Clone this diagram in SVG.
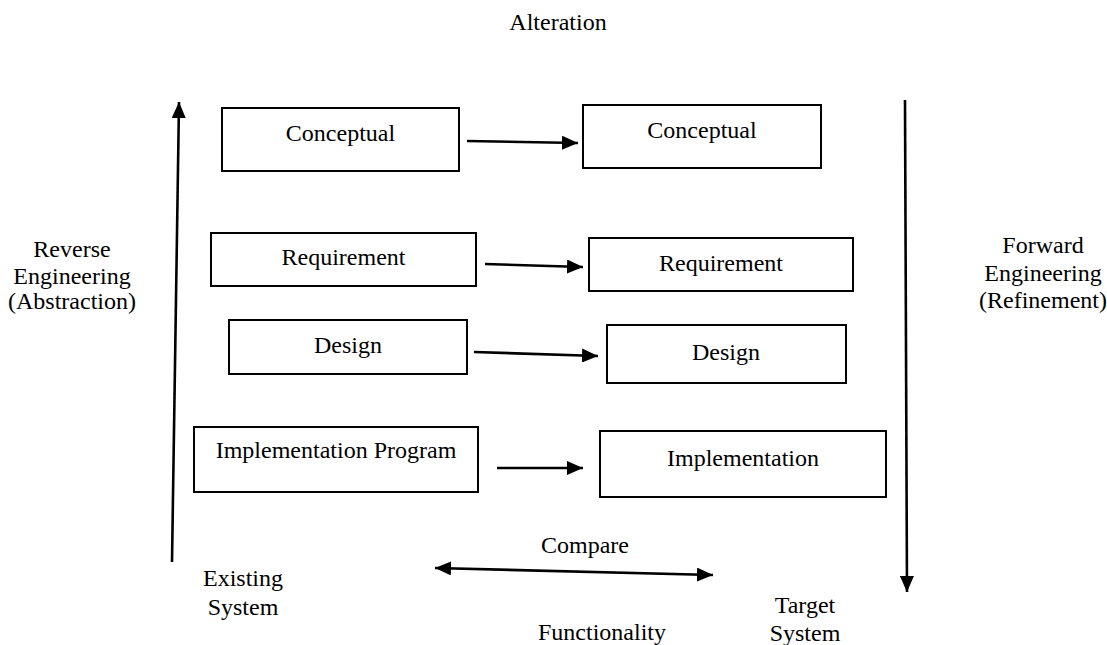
<svg xmlns="http://www.w3.org/2000/svg" width="1107" height="645" viewBox="0 0 1107 645">
  <style>
    .box { fill: #ffffff; stroke: #000000; stroke-width: 2; }
    .lbl { font-family: 'Liberation Serif', 'Times New Roman', 'Noto Serif', 'DejaVu Serif', Times, serif; font-size: 24px; fill: #000000; text-anchor: middle; }
    .edge { stroke: #000000; stroke-width: 2.6; fill: none; }
  </style>
  <defs>
    <marker id="head" viewBox="0 0 16 14" refX="16" refY="7" markerUnits="userSpaceOnUse" markerWidth="16" markerHeight="14" orient="auto-start-reverse">
      <path d="M0,0 L16,7 L0,14 z" fill="#000000"/>
    </marker>
  </defs>
  <rect width="1107" height="645" fill="#ffffff"/>

  <!-- free-standing labels -->
  <g id="labels">
    <text class="lbl" x="558" y="30">Alteration</text>
    <text class="lbl" x="72" y="257">Reverse</text>
    <text class="lbl" x="72" y="284">Engineering</text>
    <text class="lbl" x="72" y="309">(Abstraction)</text>
    <text class="lbl" x="1043" y="253">Forward</text>
    <text class="lbl" x="1043" y="281">Engineering</text>
    <text class="lbl" x="1043" y="308">(Refinement)</text>
    <text class="lbl" x="243" y="586">Existing</text>
    <text class="lbl" x="243" y="615">System</text>
    <text class="lbl" x="805" y="613">Target</text>
    <text class="lbl" x="805" y="641">System</text>
    <text class="lbl" x="585" y="553">Compare</text>
    <text class="lbl" x="602" y="640">Functionality</text>
  </g>

  <!-- existing system levels -->
  <g id="conceptual-existing">
    <rect class="box" x="222" y="108" width="237" height="63"/>
    <text class="lbl" x="340.5" y="141">Conceptual</text>
  </g>
  <g id="requirement-existing">
    <rect class="box" x="211" y="233" width="265" height="53"/>
    <text class="lbl" x="343.5" y="265">Requirement</text>
  </g>
  <g id="design-existing">
    <rect class="box" x="229" y="320" width="238" height="54"/>
    <text class="lbl" x="348" y="353">Design</text>
  </g>
  <g id="implementation-existing">
    <rect class="box" x="194" y="427" width="284" height="65"/>
    <text class="lbl" x="336" y="458">Implementation Program</text>
  </g>

  <!-- target system levels -->
  <g id="conceptual-target">
    <rect class="box" x="583" y="105" width="238" height="63"/>
    <text class="lbl" x="702" y="138">Conceptual</text>
  </g>
  <g id="requirement-target">
    <rect class="box" x="589" y="238" width="264" height="53"/>
    <text class="lbl" x="721" y="271">Requirement</text>
  </g>
  <g id="design-target">
    <rect class="box" x="607" y="325" width="239" height="58"/>
    <text class="lbl" x="726" y="360">Design</text>
  </g>
  <g id="implementation-target">
    <rect class="box" x="600" y="431" width="286" height="66"/>
    <text class="lbl" x="743" y="466">Implementation</text>
  </g>

  <!-- connectors -->
  <g id="connectors">
    <line class="edge" x1="172" y1="562" x2="179" y2="102" marker-end="url(#head)"/>
    <line class="edge" x1="905" y1="100" x2="907" y2="592" marker-end="url(#head)"/>
    <line class="edge" x1="467" y1="141" x2="578" y2="143" marker-end="url(#head)"/>
    <line class="edge" x1="485" y1="264" x2="583" y2="267" marker-end="url(#head)"/>
    <line class="edge" x1="474" y1="352" x2="598" y2="356" marker-end="url(#head)"/>
    <line class="edge" x1="497" y1="468" x2="583" y2="468" marker-end="url(#head)"/>
    <line class="edge" x1="435" y1="568" x2="713" y2="575" marker-start="url(#head)" marker-end="url(#head)"/>
  </g>
</svg>
